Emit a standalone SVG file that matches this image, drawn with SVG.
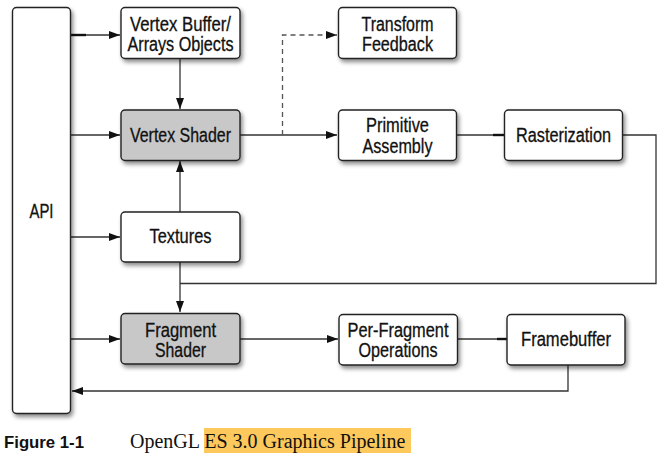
<svg xmlns="http://www.w3.org/2000/svg" width="662" height="455" viewBox="0 0 662 455">
<defs>
<filter id="sh" x="-20%" y="-20%" width="150%" height="160%">
<feDropShadow dx="2" dy="3" stdDeviation="2.2" flood-color="#000" flood-opacity="0.45"/>
</filter>
<marker id="ar" markerUnits="userSpaceOnUse" markerWidth="12" markerHeight="9" refX="11" refY="4" orient="auto">
<path d="M0,0 L11,4 L0,8 z" fill="#111"/>
</marker>
</defs>
<style>
.box{fill:#fff;stroke:#222;stroke-width:1.4;filter:url(#sh)}
.gray{fill:#c8c8c8}
.t{font-family:"Liberation Sans",Arial,sans-serif;font-size:19.5px;fill:#111;stroke:#111;stroke-width:0.3;text-anchor:middle}
.c{fill:none;stroke:#333;stroke-width:1.3}
.stub{fill:none;stroke:#111;stroke-width:2.4}
.d{stroke-dasharray:5,4;stroke:#555}
</style>
<rect width="662" height="455" fill="#fff"/>
<g id="connectors">
<path class="c" d="M71,35 H120" marker-end="url(#ar)"/>
<path class="stub" d="M71,35 H86"/>
<path class="c" d="M71,135 H120" marker-end="url(#ar)"/>
<path class="c" d="M71,237 H120" marker-end="url(#ar)"/>
<path class="c" d="M71,339 H120" marker-end="url(#ar)"/>
<path class="c" d="M180,58 V109" marker-end="url(#ar)"/>
<path class="c" d="M180,212 V161" marker-end="url(#ar)"/>
<path class="c" d="M180,262 V312" marker-end="url(#ar)"/>
<path class="c" d="M240,135 H337" marker-end="url(#ar)"/>
<path class="c d" d="M282.5,135 V35 H337" marker-end="url(#ar)"/>
<path class="c" d="M457,135 H504"/>
<path class="stub" d="M493,135 H504"/>
<path class="c" d="M623,135 H656 V283.5 H180"/>
<path class="c" d="M240,339 H338" marker-end="url(#ar)"/>
<path class="c" d="M458,339 H507"/>
<path class="stub" d="M497,339 H507"/>
<path class="c" d="M568,365 V391 H72" marker-end="url(#ar)"/>
</g>
<g id="api">
<rect class="box" x="12.5" y="7.5" width="58" height="406" rx="4"/>
<text class="t" x="41.5" y="217.5" textLength="24" lengthAdjust="spacingAndGlyphs">API</text>
</g>
<g id="vertex-buffer">
<rect class="box" x="121" y="7.5" width="119" height="51" rx="4"/>
<text class="t" x="180.5" y="30.5" textLength="101" lengthAdjust="spacingAndGlyphs">Vertex Buffer/</text>
<text class="t" x="180.5" y="51" textLength="106" lengthAdjust="spacingAndGlyphs">Arrays Objects</text>
</g>
<g id="vertex-shader">
<rect class="box gray" x="121" y="110" width="119" height="50.5" rx="4"/>
<text class="t" x="180.5" y="141.5" textLength="101" lengthAdjust="spacingAndGlyphs">Vertex Shader</text>
</g>
<g id="textures">
<rect class="box" x="121" y="212" width="119" height="50" rx="4"/>
<text class="t" x="180.5" y="242.5" textLength="62" lengthAdjust="spacingAndGlyphs">Textures</text>
</g>
<g id="fragment-shader">
<rect class="box gray" x="121" y="313.5" width="119" height="50.5" rx="4"/>
<text class="t" x="180.5" y="336.5" textLength="71" lengthAdjust="spacingAndGlyphs">Fragment</text>
<text class="t" x="180.5" y="356.5" textLength="51" lengthAdjust="spacingAndGlyphs">Shader</text>
</g>
<g id="transform-feedback">
<rect class="box" x="338.5" y="7.5" width="118" height="51" rx="4"/>
<text class="t" x="397.5" y="30.5" textLength="72" lengthAdjust="spacingAndGlyphs">Transform</text>
<text class="t" x="397.5" y="51" textLength="71" lengthAdjust="spacingAndGlyphs">Feedback</text>
</g>
<g id="primitive-assembly">
<rect class="box" x="338.5" y="110" width="118" height="50.5" rx="4"/>
<text class="t" x="397.5" y="132" textLength="63" lengthAdjust="spacingAndGlyphs">Primitive</text>
<text class="t" x="397.5" y="152.5" textLength="70" lengthAdjust="spacingAndGlyphs">Assembly</text>
</g>
<g id="rasterization">
<rect class="box" x="504.5" y="110" width="118" height="50.5" rx="4"/>
<text class="t" x="563.5" y="141.5" textLength="95" lengthAdjust="spacingAndGlyphs">Rasterization</text>
</g>
<g id="per-fragment">
<rect class="box" x="339" y="314.5" width="118.5" height="50.5" rx="4"/>
<text class="t" x="398" y="336.5" textLength="101" lengthAdjust="spacingAndGlyphs">Per-Fragment</text>
<text class="t" x="398" y="357" textLength="79" lengthAdjust="spacingAndGlyphs">Operations</text>
</g>
<g id="framebuffer">
<rect class="box" x="507" y="314.5" width="118" height="50.5" rx="4"/>
<text class="t" x="566" y="345.5" textLength="90" lengthAdjust="spacingAndGlyphs">Framebuffer</text>
</g>
<g id="caption">
<rect x="204" y="428" width="207" height="25" fill="#fdc85c"/>
<text x="4" y="448" font-family="'Liberation Sans',Arial,sans-serif" font-weight="bold" font-size="17" fill="#111" textLength="80" lengthAdjust="spacingAndGlyphs">Figure 1-1</text>
<text x="130" y="447.5" font-family="'Liberation Serif','Times New Roman',serif" font-size="20" fill="#111">OpenGL ES 3.0 Graphics Pipeline</text>
</g>
</svg>
